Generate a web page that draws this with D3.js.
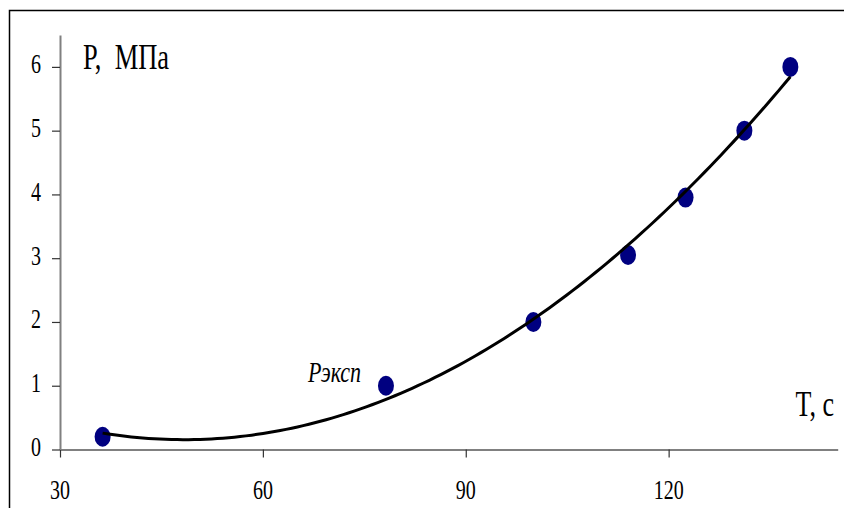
<!DOCTYPE html>
<html><head><meta charset="utf-8">
<script src="https://cdn.jsdelivr.net/npm/d3@7"></script>
<style>body{margin:0;background:#fff}svg{display:block}text{font-family:"Liberation Serif","Times New Roman",serif;fill:#000;white-space:pre}</style>
</head><body>
<svg id="c" width="844" height="508"></svg>
<script>
const timeT = [36.3, 78.2, 100, 114, 122.5, 131.2, 138];
const pressureP = [0.2, 1.0, 2.0, 3.05, 3.95, 5.0, 6.0];
const xTicks = [30, 60, 90, 120];
const yTicks = [0, 1, 2, 3, 4, 5, 6];
const xTitle = "T, c";
const yTitle = "P,\u00a0 МПа";
const pointLabel = "Рэксп";

const svg = d3.select("#c");
const x = d3.scaleLinear().domain([30, 145]).range([60, 837.7]);
const y = d3.scaleLinear().domain([0, 6.5]).range([449.5, 35]);
const SY = 1.35;

svg.append("rect").attr("x", 9.5).attr("y", 10.5).attr("width", 845).attr("height", 510)
  .attr("fill", "none").attr("stroke", "#000").attr("stroke-width", 1.5);

const gx = svg.append("g").attr("transform", `translate(0,${y(0)})`)
  .call(d3.axisBottom(x).tickValues(xTicks).tickSize(8).tickSizeOuter(0).tickFormat(""));
const gy = svg.append("g").attr("transform", `translate(${x(30)},0)`)
  .call(d3.axisLeft(y).tickValues(yTicks).tickSize(8).tickSizeOuter(0).tickFormat(""));
[gx, gy].forEach(g => {
  g.select(".domain").attr("stroke", "#808080").attr("stroke-width", 2);
  g.selectAll(".tick line").attr("stroke", "#333").attr("stroke-width", 1.2);
});

function stext(px, py, str, size, anchor, italic) {
  return svg.append("text").attr("transform", `translate(${px},${py}) scale(1,${SY})`)
    .attr("text-anchor", anchor).attr("font-size", size)
    .attr("font-style", italic ? "italic" : "normal").text(str);
}
xTicks.forEach(v => stext(x(v), 498.5, v, 20, "middle"));
yTicks.forEach(v => stext(41, y(v) + 6.5, v, 20, "end"));
stext(83, 69, yTitle, 26.5, "start");
stext(834, 416, xTitle, 26, "end");
stext(308, 382, pointLabel, 22, "start", true);

// polynomial (2nd order) least-squares trendline of the data
function fitQuad(xs, ys) {
  const n = xs.length; let S = [0,0,0,0,0], T = [0,0,0];
  for (let i = 0; i < n; i++) { let p = 1; for (let k = 0; k < 5; k++) { S[k] += p; if (k < 3) T[k] += p * ys[i]; p *= xs[i]; } }
  const A = [[S[0],S[1],S[2],T[0]],[S[1],S[2],S[3],T[1]],[S[2],S[3],S[4],T[2]]];
  for (let i = 0; i < 3; i++) { for (let j = i+1; j < 3; j++) { const f = A[j][i]/A[i][i]; for (let k = i; k < 4; k++) A[j][k] -= f*A[i][k]; } }
  const c = [0,0,0];
  for (let i = 2; i >= 0; i--) { let s = A[i][3]; for (let k = i+1; k < 3; k++) s -= A[i][k]*c[k]; c[i] = s / A[i][i]; }
  return c;
}
const c = fitQuad(timeT, pressureP);
const t0 = timeT[0], t1 = timeT[timeT.length-1];
const xs = d3.range(0, 121).map(i => t0 + (t1 - t0) * i / 120);
const trend = xs.map(t => [t, c[0] + c[1]*t + c[2]*t*t]);

svg.selectAll("ellipse.pt").data(timeT.map((t, i) => [t, pressureP[i]])).join("ellipse")
  .attr("class", "pt").attr("cx", d => x(d[0])).attr("cy", d => y(d[1]))
  .attr("rx", 8).attr("ry", 10).attr("fill", "#000080");
svg.append("path").datum(trend).attr("fill", "none").attr("stroke", "#000").attr("stroke-width", 3)
  .attr("stroke-linejoin", "round")
  .attr("d", d3.line().x(d => x(d[0])).y(d => y(d[1])));
</script>
</body></html>
